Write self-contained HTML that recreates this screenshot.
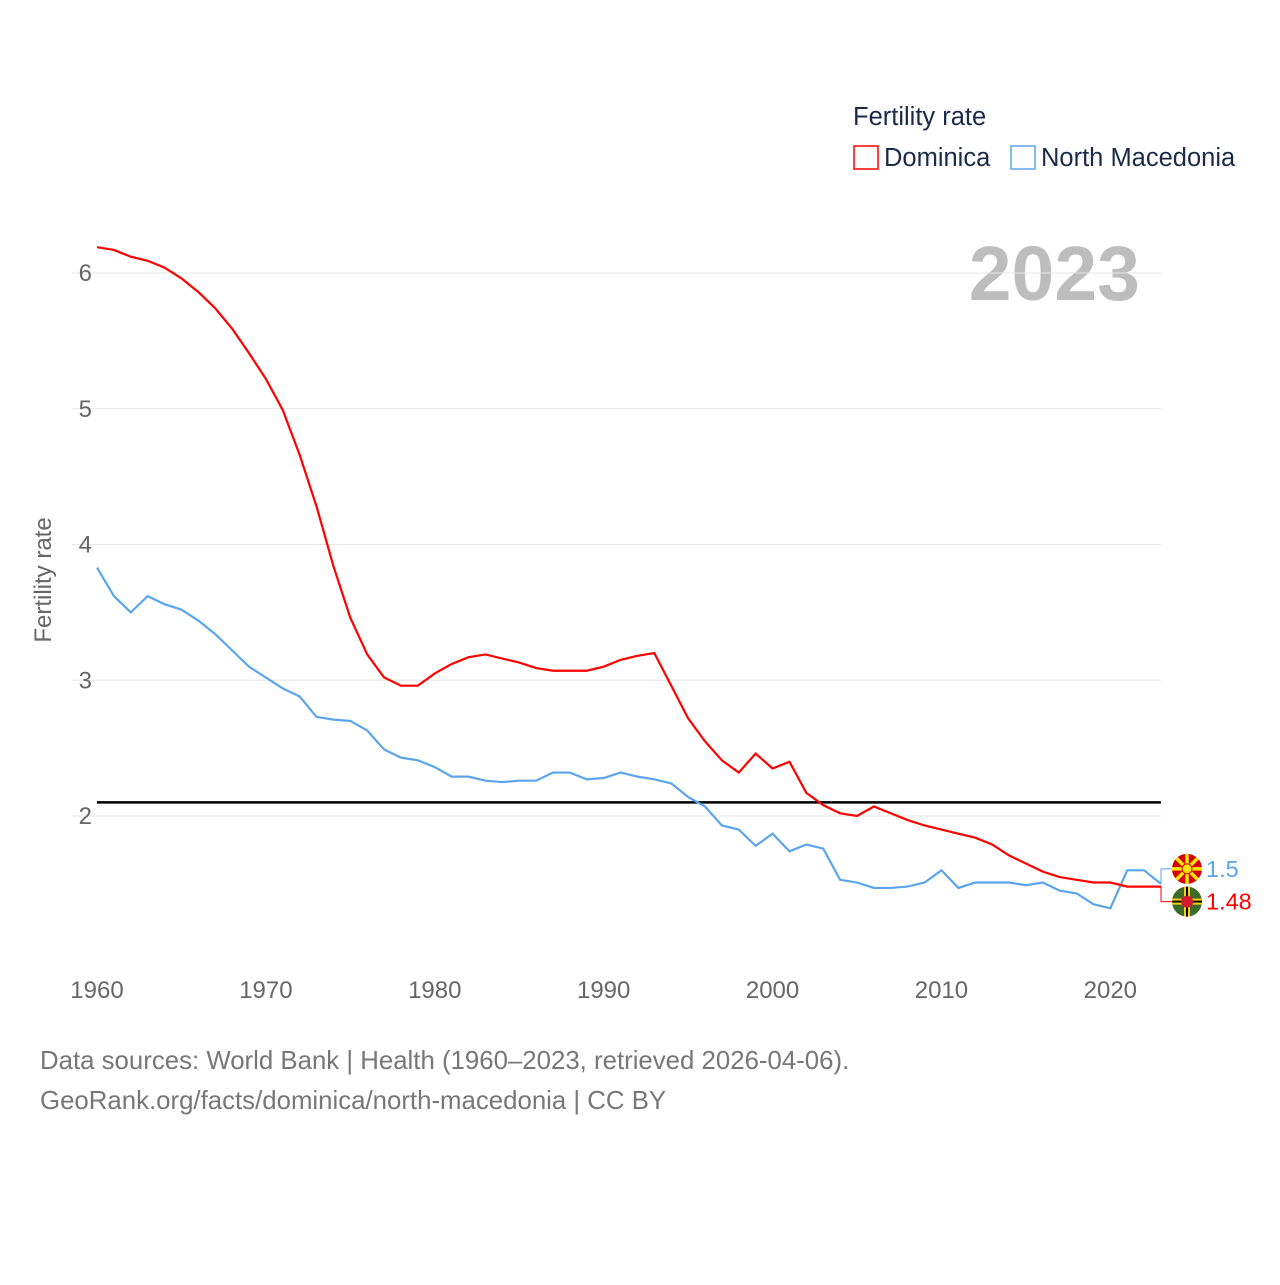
<!DOCTYPE html>
<html><head><meta charset="utf-8"><style>
body{margin:0;background:#fff;font-family:"Liberation Sans",sans-serif}
svg text{font-family:"Liberation Sans",sans-serif}
</style></head><body>
<svg id="chart" width="1280" height="1280" viewBox="0 0 1280 1280">
<text x="853" y="125" font-size="25.5" fill="#1a2b4a">Fertility rate</text>
<rect x="854" y="146" width="24" height="23" fill="none" stroke="#ff0000" stroke-width="1.5"/>
<text x="884" y="166" font-size="25.5" fill="#1a2b4a">Dominica</text>
<rect x="1011" y="146" width="24" height="23" fill="none" stroke="#5aa5ee" stroke-width="1.5"/>
<text x="1041" y="166" font-size="25.5" fill="#1a2b4a">North Macedonia</text>
<text x="1140" y="300" font-size="77" font-weight="bold" fill="#bdbdbd" text-anchor="end">2023</text>
<text transform="translate(51,580) rotate(-90)" font-size="24" fill="#666" text-anchor="middle">Fertility rate</text>
<g id="grid"></g><g id="lines"></g>
<text x="40" y="1069" font-size="25.8" fill="#777">Data sources: World Bank | Health (1960–2023, retrieved 2026-04-06).</text>
<text x="40" y="1109" font-size="25.8" fill="#777">GeoRank.org/facts/dominica/north-macedonia | CC BY</text>
</svg>
<script>
const years=[];for(let y=1960;y<=2023;y++)years.push(y);
const dominica=[6.19,6.17,6.12,6.09,6.04,5.96,5.86,5.74,5.59,5.41,5.22,4.99,4.66,4.28,3.84,3.46,3.19,3.02,2.96,2.96,3.05,3.12,3.17,3.19,3.16,3.13,3.09,3.07,3.07,3.07,3.10,3.15,3.18,3.20,2.96,2.72,2.55,2.41,2.32,2.46,2.35,2.40,2.17,2.08,2.02,2.00,2.07,2.02,1.97,1.93,1.90,1.87,1.84,1.79,1.71,1.65,1.59,1.55,1.53,1.51,1.51,1.48,1.48,1.48];
const macedonia=[3.83,3.62,3.50,3.62,3.56,3.52,3.44,3.34,3.22,3.10,3.02,2.94,2.88,2.73,2.71,2.70,2.63,2.49,2.43,2.41,2.36,2.29,2.29,2.26,2.25,2.26,2.26,2.32,2.32,2.27,2.28,2.32,2.29,2.27,2.24,2.14,2.07,1.93,1.90,1.78,1.87,1.74,1.79,1.76,1.53,1.51,1.47,1.47,1.48,1.51,1.60,1.47,1.51,1.51,1.51,1.49,1.51,1.45,1.43,1.35,1.32,1.60,1.60,1.50];
const yTicks=[2,3,4,5,6];
const xTicks=[1960,1970,1980,1990,2000,2010,2020];
const replacement=2.1;
const NS='http://www.w3.org/2000/svg';
const X=y=>97+(y-1960)*(1161-97)/63;
const Y=v=>816-(v-2)*135.75;
const grid=document.getElementById('grid'),lines=document.getElementById('lines');
function mk(tag,attrs,parent){const e=document.createElementNS(NS,tag);for(const k in attrs)e.setAttribute(k,attrs[k]);parent.appendChild(e);return e;}
yTicks.forEach(v=>{
 const l=mk('line',{x1:72,x2:1161,y1:Y(v),y2:Y(v),stroke:'#e6e6e6','stroke-width':1},grid);
 
 
 const t=mk('text',{x:92,y:Y(v)+8,'font-size':24,fill:'#666','text-anchor':'end'},grid);t.textContent=v;
 
 
});
xTicks.forEach(v=>{
 const t=mk('text',{x:X(v),y:998,'font-size':24,fill:'#666','text-anchor':'middle'},grid);t.textContent=v;
 
 
});
const ref=mk('line',{x1:97,x2:1161,y1:Y(replacement),y2:Y(replacement),stroke:'#000','stroke-width':2.5},lines);


function series(arr,color,name){
 const p=mk('polyline',{points:arr.map((v,i)=>X(years[i])+','+Y(v)).join(' '),fill:'none',stroke:color,'stroke-width':2.2},lines);
 
 
}
series(macedonia,'#5aa5ee','series-north-macedonia');
series(dominica,'#ff0000','series-dominica');
const lm=macedonia[macedonia.length-1],ld=dominica[dominica.length-1];
let ym=Y(lm),yd=Y(ld);
let fm=Math.min(ym,yd)-15,fd=Math.max(ym,yd)+15;
if(lm<ld){const t=fm;fm=fd;fd=t;}
function endLabel(yv,fy,color,val,name,flag){
 const c=mk('polyline',{points:`1161,${yv} 1161,${fy} 1172,${fy}`,fill:'none',stroke:color,'stroke-width':1},lines);
 
 
 const g=mk('g',{},lines);
 
 
 flag(g,1187,fy);
 const t=mk('text',{x:1206,y:fy+8,'font-size':23.5,fill:color},lines);t.textContent=val;
 
 
}
endLabel(ym,fm,'#5aa5ee',lm,'north-macedonia',(g,x,y)=>{
 mk('circle',{cx:x,cy:y,r:15,fill:'#d20000'},g);
 for(let a=0;a<8;a++){const an=a*Math.PI/4;mk('line',{x1:x,y1:y,x2:x+15*Math.cos(an),y2:y+15*Math.sin(an),stroke:'#ffe600','stroke-width':3.5},g);}
 mk('circle',{cx:x,cy:y,r:5,fill:'#ffe600',stroke:'#d20000','stroke-width':1},g);
});
endLabel(yd,fd,'#ff0000',ld,'dominica',(g,x,y)=>{
 mk('circle',{cx:x,cy:y,r:15,fill:'#3f6b2a'},g);
 mk('rect',{x:x-15,y:y-3,width:30,height:6,fill:'#fcd116'},g);
 mk('rect',{x:x-15,y:y-1,width:30,height:2,fill:'#000'},g);
 mk('rect',{x:x-3,y:y-15,width:6,height:30,fill:'#fcd116'},g);
 mk('rect',{x:x-1,y:y-15,width:2,height:30,fill:'#000'},g);
 mk('circle',{cx:x,cy:y,r:6,fill:'#d41c30'},g);
});
</script>
</body></html>
